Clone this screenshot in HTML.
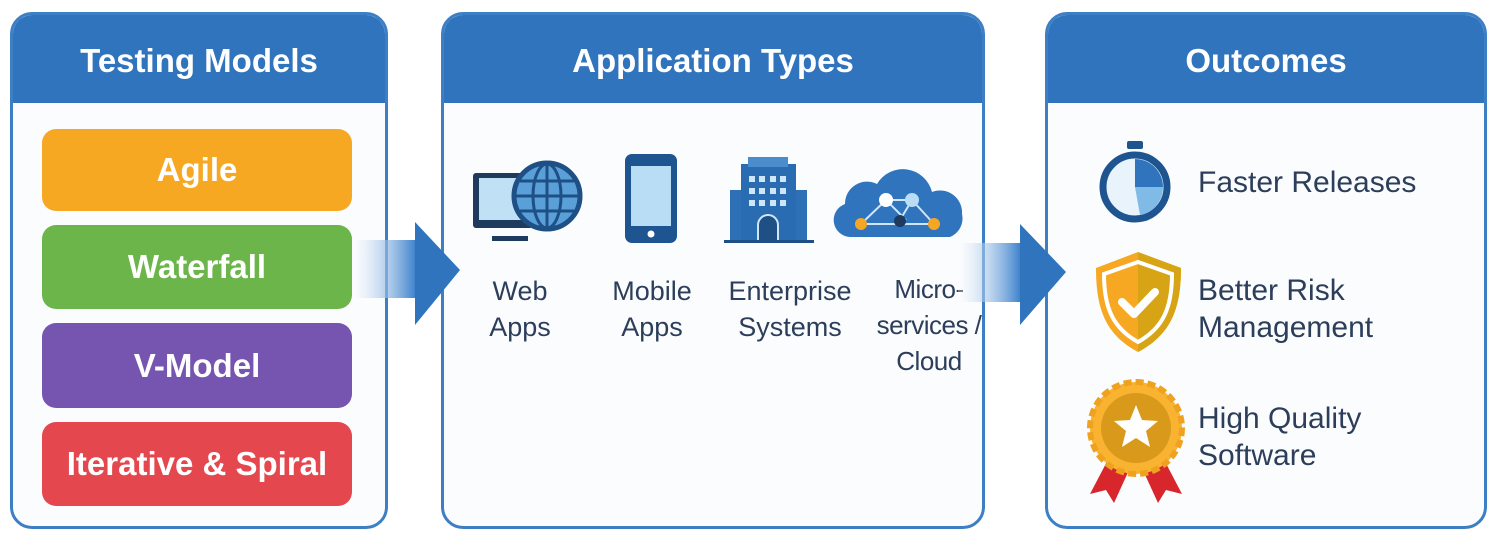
<!DOCTYPE html>
<html><head><meta charset="utf-8"><style>
body{margin:0;width:1498px;height:542px;background:#fff;position:relative;overflow:hidden;font-family:"Liberation Sans","DejaVu Sans",sans-serif}
.p{position:absolute;border:3px solid #3d7fc4;border-radius:22px;background:#fbfcfe;overflow:hidden;box-sizing:border-box}
.h{position:absolute;left:0;right:0;top:0;height:88px;background:#2f74bd;color:#fff;font-weight:bold;font-size:33px;text-align:center;line-height:92px}
.pill{position:absolute;left:42px;width:310px;border-radius:14px;color:#fff;font-weight:bold;font-size:33px;text-align:center}
.l{position:absolute;color:#2c3e5a;font-size:27px;text-align:center;line-height:36px;white-space:nowrap}
.o{position:absolute;color:#2c3e5a;font-size:30px;line-height:37px;left:1198px}
</style></head><body>
<div class="p" style="left:10px;top:12px;width:378px;height:517px"><div class="h">Testing Models</div></div>
<div class="p" style="left:441px;top:12px;width:544px;height:517px"><div class="h">Application Types</div></div>
<div class="p" style="left:1045px;top:12px;width:442px;height:517px"><div class="h">Outcomes</div></div>
<div class="pill" style="top:129px;height:82px;line-height:82px;background:#f7a823">Agile</div>
<div class="pill" style="top:225px;height:84px;line-height:84px;background:#6cb54a">Waterfall</div>
<div class="pill" style="top:323px;height:85px;line-height:85px;background:#7655b0">V-Model</div>
<div class="pill" style="top:422px;height:84px;line-height:84px;background:#e5474f">Iterative &amp; Spiral</div>
<div class="l" style="left:470px;top:273px;width:100px">Web<br>Apps</div>
<div class="l" style="left:600px;top:273px;width:104px">Mobile<br>Apps</div>
<div class="l" style="left:720px;top:273px;width:140px">Enterprise<br>Systems</div>
<div class="l" style="left:869px;top:271px;width:120px;font-size:26px;letter-spacing:-0.5px">Micro-<br>services /<br>Cloud</div>
<svg width="1498" height="542" style="position:absolute;left:0;top:0">
<defs><linearGradient id="g" x1="0" x2="1"><stop offset="0" stop-color="#fff" stop-opacity="0.3"/><stop offset="1" stop-color="#3a80cc"/></linearGradient></defs>
<rect x="352" y="240" width="64" height="58" fill="url(#g)"/><polygon points="415,222 460,270 415,325" fill="#2f74bd"/>
<rect x="958" y="243" width="63" height="59" fill="url(#g)"/><polygon points="1020,224 1066,272 1020,325" fill="#2f74bd"/>
<rect x="473" y="173" width="60" height="55" rx="3" fill="#1e3a5c"/><rect x="479" y="178" width="48" height="42" fill="#bfe0f5"/>
<rect x="492" y="236" width="36" height="5" fill="#1e3a5c"/>
<circle cx="547" cy="196" r="33" fill="#5aa0d8" stroke="#1e4f85" stroke-width="5"/>
<g stroke="#1e4f85" stroke-width="3" fill="none"><ellipse cx="547" cy="196" rx="14" ry="32"/><line x1="547" y1="164" x2="547" y2="228"/><line x1="515" y1="196" x2="579" y2="196"/><line x1="520" y1="181" x2="574" y2="181"/><line x1="520" y1="211" x2="574" y2="211"/></g>
<rect x="625" y="154" width="52" height="89" rx="7" fill="#1e5590"/><rect x="631" y="166" width="40" height="60" fill="#b9ddf5"/><circle cx="651" cy="234" r="3.5" fill="#fff"/>
<rect x="730" y="190" width="77" height="52" fill="#2e70b5"/><rect x="741" y="164" width="55" height="78" fill="#2a6cb2"/><rect x="748" y="157" width="40" height="10" fill="#4a8ccc"/>
<g fill="#cfe6f8"><rect x="749" y="176" width="6" height="6"/><rect x="759" y="176" width="6" height="6"/><rect x="770" y="176" width="6" height="6"/><rect x="780" y="176" width="6" height="6"/><rect x="749" y="188" width="6" height="6"/><rect x="759" y="188" width="6" height="6"/><rect x="770" y="188" width="6" height="6"/><rect x="780" y="188" width="6" height="6"/><rect x="749" y="200" width="6" height="6"/><rect x="759" y="200" width="6" height="6"/><rect x="770" y="200" width="6" height="6"/><rect x="780" y="200" width="6" height="6"/></g>
<path d="M758 241 V225 a10 10 0 0 1 20 0 V241" fill="#1e4f85" stroke="#cfe6f8" stroke-width="2"/>
<rect x="724" y="240" width="90" height="3" fill="#1e4f85"/>
<path d="M850 237 a17 17 0 0 1 -5 -33 a22 22 0 0 1 32 -20 a30 30 0 0 1 55 8 a22 22 0 0 1 30 22 a20 20 0 0 1 -12 23 z" fill="#2f74bd"/>
<g stroke="#cfe6f8" stroke-width="2"><line x1="861" y1="224" x2="886" y2="200"/><line x1="886" y1="200" x2="912" y2="200"/><line x1="912" y1="200" x2="934" y2="224"/><line x1="861" y1="224" x2="934" y2="224"/><line x1="886" y1="200" x2="906" y2="220"/><line x1="912" y1="200" x2="900" y2="220"/></g>
<circle cx="886" cy="200" r="7" fill="#fff"/><circle cx="912" cy="200" r="7" fill="#b9ddf5"/><circle cx="861" cy="224" r="6" fill="#f5a623"/><circle cx="934" cy="224" r="6" fill="#f5a623"/><circle cx="900" cy="221" r="6" fill="#1e3a5c"/>
<rect x="1127" y="141" width="16" height="8" rx="2" fill="#1e5590"/><circle cx="1135" cy="187" r="32" fill="#e8f3fb" stroke="#1e5590" stroke-width="7"/>
<path d="M1135 187 V159 A28 28 0 0 1 1163 187 z" fill="#2f74bd"/><path d="M1135 187 H1163 A28 28 0 0 1 1140 215 z" fill="#7fbbe6"/>
<path d="M1138 252 L1181 268 C1181 310 1170 335 1138 352 C1106 335 1096 310 1096 268 z" fill="#f7a823"/>
<path d="M1138 252 L1181 268 C1181 310 1170 335 1138 352 z" fill="#d7a415"/>
<path d="M1138 262 L1172 274 C1172 308 1163 328 1138 342 C1113 328 1104 308 1104 274 z" fill="none" stroke="#fff" stroke-width="4"/>
<polyline points="1122,302 1134,314 1155,292" fill="none" stroke="#fff" stroke-width="8" stroke-linecap="round" stroke-linejoin="round"/>
<polygon points="1112,452 1090,494 1106,490 1114,503 1130,468" fill="#d8262d"/><polygon points="1160,452 1182,494 1166,490 1158,503 1142,468" fill="#d8262d"/>
<circle cx="1136" cy="428" r="46" fill="#f9b331" stroke="#eea21f" stroke-width="6" stroke-dasharray="8 4"/><circle cx="1136" cy="428" r="35" fill="#d99a1c"/>
<polygon points="1136,405 1142,420 1158,421 1146,431 1150,447 1136,438 1122,447 1126,431 1114,421 1130,420" fill="#fff"/>
</svg>
<div class="o" style="top:164px">Faster Releases</div>
<div class="o" style="top:272px">Better Risk<br>Management</div>
<div class="o" style="top:400px">High Quality<br>Software</div>
</body></html>
